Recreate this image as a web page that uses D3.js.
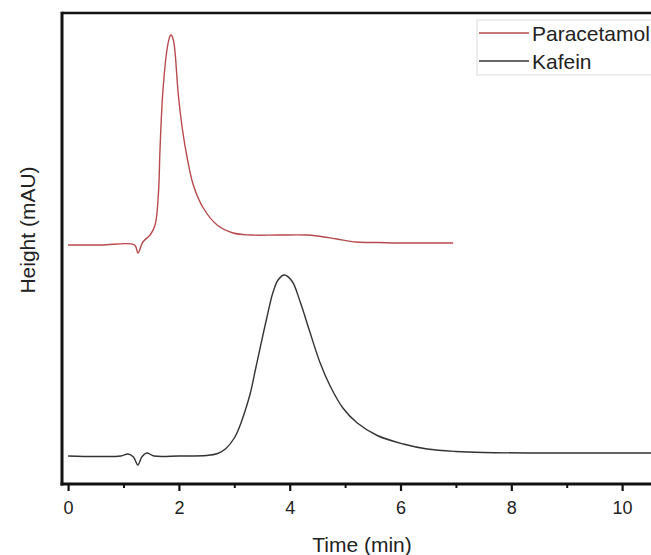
<!DOCTYPE html>
<html>
<head>
<meta charset="utf-8">
<script src="https://cdn.jsdelivr.net/npm/d3@7"></script>
<style>
  html, body { margin: 0; padding: 0; background: #fff; }
  svg { display: block; font-family: "Liberation Sans", Arial, sans-serif; }
</style>
</head>
<body>
<svg id="chart" width="651" height="555"></svg>
<script>
// ---- data (time in min, height in arbitrary mAU, offset-stacked) ----
const seriesNames = ["Paracetamol", "Kafein"];

const paracetamolTime = [0, 0.6, 1.2, 1.26, 1.35, 1.48, 1.57, 1.63, 1.66, 1.71, 1.79, 1.84, 1.86, 1.9, 1.93, 1.99, 2.06, 2.15, 2.26, 2.44, 2.69, 2.98, 3.29, 3.8, 4.3, 4.5, 4.85, 5.2, 5.6, 6.0, 6.5, 6.95];
const paracetamolHeight = [239, 239, 239, 231, 242, 249, 259, 290, 336, 392, 436, 448, 449, 444, 432, 389, 356, 326, 299, 276, 259, 251, 249, 249, 249, 248, 245, 242, 241.5, 241, 241, 241];

const kafeinTime = [0, 0.5, 0.95, 1.08, 1.18, 1.26, 1.33, 1.42, 1.55, 2.0, 2.5, 2.7, 2.85, 3.0, 3.1, 3.2, 3.29, 3.38, 3.47, 3.59, 3.7, 3.79, 3.9, 4.04, 4.19, 4.37, 4.55, 4.73, 4.96, 5.22, 5.58, 6.05, 6.48, 7.0, 7.5, 8.5, 9.5, 10.5, 10.8];
const kafeinHeight = [28, 27.5, 28, 30, 27, 19, 27, 31, 28, 28, 28.5, 30.5, 35.5, 46, 58, 74, 91, 114, 137, 167, 192, 204, 209, 203, 182, 151, 121, 98, 76, 61, 48.5, 40, 35, 32.5, 31.5, 31, 31, 31, 31];

const xMajorTicks = [0, 2, 4, 6, 8, 10];
const xMinorTicks = [1, 3, 5, 7, 9];
const xTitle = "Time (min)";
const yTitle = "Height (mAU)";
const seriesColors = ["#b84a4e", "#333333"];

// ---- layout ----
const svg = d3.select("#chart");
const plotLeft = 62, plotRight = 662, plotTop = 13, plotBottom = 484;

const x = d3.scaleLinear().domain([-0.11, 10.72]).range([plotLeft, plotRight]);
const y = d3.scaleLinear().domain([0, 471]).range([plotBottom, plotTop]);

const line = d3.line()
  .x(d => x(d[0]))
  .y(d => y(d[1]))
  .curve(d3.curveCatmullRom.alpha(0.5));

const para = paracetamolTime.map((t, i) => [t, paracetamolHeight[i]]);
const kaf = kafeinTime.map((t, i) => [t, kafeinHeight[i]]);

svg.append("path").datum(kaf).attr("d", line)
  .attr("fill", "none").attr("stroke", seriesColors[1]).attr("stroke-width", 1.4);
svg.append("path").datum(para).attr("d", line)
  .attr("fill", "none").attr("stroke", seriesColors[0]).attr("stroke-width", 1.4);

// frame: top and left borders
svg.append("line").attr("x1", plotLeft).attr("x2", plotRight).attr("y1", plotTop).attr("y2", plotTop)
  .attr("stroke", "#111").attr("stroke-width", 2.5);
svg.append("line").attr("x1", plotLeft).attr("x2", plotLeft).attr("y1", plotTop - 1.2).attr("y2", plotBottom + 1.5)
  .attr("stroke", "#111").attr("stroke-width", 3);

// x axis
const xAxis = svg.append("g").attr("transform", `translate(0,${plotBottom})`)
  .call(d3.axisBottom(x).tickValues(xMajorTicks).tickSize(7).tickPadding(10).tickFormat(d3.format("d")));
xAxis.select(".domain").attr("stroke", "#111").attr("stroke-width", 3)
  .attr("d", `M${plotLeft - 1.5},0H${plotRight}`);
xAxis.selectAll(".tick line").attr("stroke", "#111").attr("stroke-width", 2.2);
xAxis.selectAll(".tick text").attr("font-size", 18).attr("fill", "#222")
  .attr("font-family", "Liberation Sans, Arial, sans-serif");

const xMinor = svg.append("g").attr("transform", `translate(0,${plotBottom})`)
  .call(d3.axisBottom(x).tickValues(xMinorTicks).tickSize(4).tickFormat(""));
xMinor.select(".domain").remove();
xMinor.selectAll(".tick line").attr("stroke", "#111").attr("stroke-width", 2);

// axis titles
svg.append("text").attr("x", 362).attr("y", 552).attr("text-anchor", "middle")
  .attr("font-size", 21).attr("fill", "#222").text(xTitle);
svg.append("text").attr("transform", "translate(35,230) rotate(-90)")
  .attr("text-anchor", "middle").attr("font-size", 21).attr("fill", "#222").text(yTitle);

// legend
const lg = svg.append("g");
lg.append("rect").attr("x", 477).attr("y", 20).attr("width", 200).attr("height", 55)
  .attr("fill", "none").attr("stroke", "#dcdcdc").attr("stroke-width", 1);
seriesNames.forEach((name, i) => {
  const yy = 33 + i * 28;
  lg.append("line").attr("x1", 479).attr("x2", 529).attr("y1", yy).attr("y2", yy)
    .attr("stroke", seriesColors[i]).attr("stroke-width", 1.4);
  lg.append("text").attr("x", 532).attr("y", yy).attr("dy", "0.36em")
    .attr("font-size", 21).attr("fill", "#222").text(name);
});
</script>
</body>
</html>
